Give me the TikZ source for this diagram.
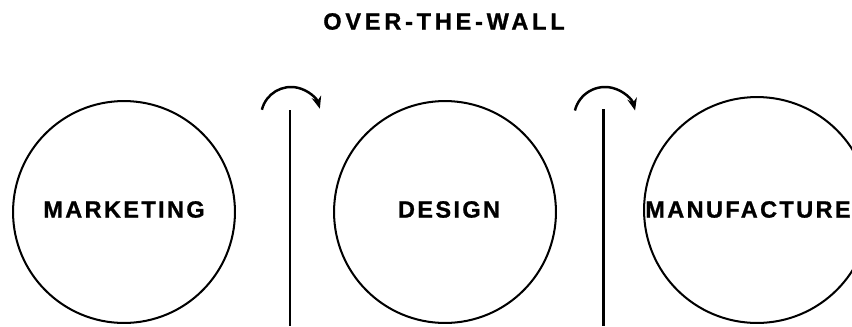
\documentclass[tikz,border=0pt]{standalone}
\usepackage{fontspec}
\setmainfont{Liberation Sans}
\usepackage{tikz}
\usetikzlibrary{arrows.meta, positioning}

\begin{document}
\begin{tikzpicture}[
  x=0.02cm, y=0.02cm,
  dept/.style={circle, draw=black, line width=1.15pt, minimum size=#1*0.04cm,
               inner sep=0pt},
  lbl/.style={font=\fontsize{13.4}{16}\selectfont\bfseries\addfontfeature{LetterSpace=10, FakeBold=1},
              inner sep=0pt},
  wall/.style={line width=1.7pt, draw=black},
  hop/.style={-{Stealth[length=7pt, width=5.5pt]}, line width=1.4pt},
]
\useasboundingbox (0,0) rectangle (852,326);

% Title
\node[lbl, font=\fontsize{13.4}{16}\selectfont\bfseries\addfontfeature{LetterSpace=16, FakeBold=1}]
  (title) at (444,304.5) {OVER-THE-WALL};

% Departments
\node[dept=111] (mkt) at (124,114) {};
\node[dept=111] (des) at (445,114) {};
\node[dept=113] (man) at (757,116) {};

\node[lbl] (mktlbl) at (124,116.5) {MARKETING};
\node[lbl] (deslbl) at (449,116.5) {DESIGN};
\node[lbl] (manlbl) at (748,116.5) {MANUFACTURE};

% Walls
\coordinate (w1top) at (290,216);
\coordinate (w1bot) at (290,0);
\coordinate (w2top) at (603,217);
\coordinate (w2bot) at (603,0);
\draw[wall] (w1top) -- (w1bot);
\draw[wall] (w2top) -- (w2bot);

% Thrown over the wall
\draw[hop] ([shift={(166:30)}]291,209) arc[start angle=166, end angle=16, radius=30];
\draw[hop] ([shift={(166:31)}]605,208) arc[start angle=166, end angle=14, radius=31];

\end{tikzpicture}
\end{document}
